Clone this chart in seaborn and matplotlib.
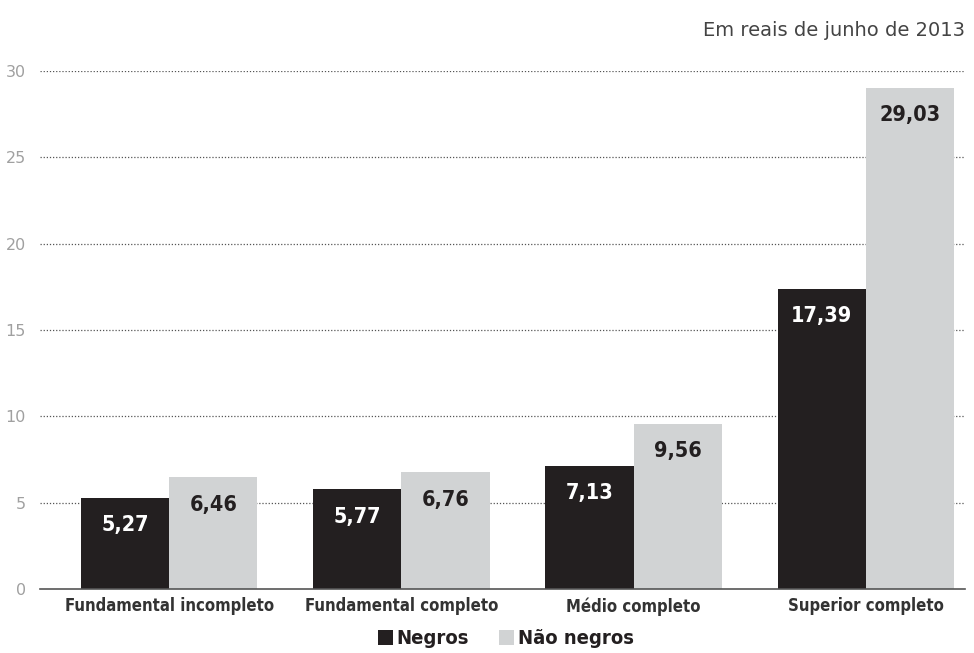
import matplotlib
matplotlib.use("Agg")
import matplotlib.pyplot as plt
import seaborn as sns
import pandas as pd
from matplotlib.patches import Patch
from matplotlib import font_manager
from matplotlib.font_manager import FontProperties

categories = ["Fundamental incompleto", "Fundamental completo", "Médio completo", "Superior completo"]
negros = [5.27, 5.77, 7.13, 17.39]
nao_negros = [6.46, 6.76, 9.56, 29.03]
series_names = ["Negros", "Não negros"]
y_ticks = [0, 5, 10, 15, 20, 25, 30]
subtitle = "Em reais de junho de 2013"

sns.set_style("white")
plt.rcParams['font.family'] = ['DejaVu Sans']

# find a bold condensed font if one is installed
cond_file = None
cands = []
for f in font_manager.fontManager.ttflist:
    nm = (f.name + " " + f.fname).lower()
    is_cond = ("condensed" in nm or "narrow" in nm or f.stretch in ("condensed", "semi-condensed", 600, 700))
    wt = f.weight if isinstance(f.weight, int) else (700 if "bold" in str(f.weight) else 400)
    if is_cond and wt >= 700 and "italic" not in nm and "oblique" not in nm and f.style == "normal":
        cands.append(f)
cands.sort(key=lambda f: (0 if "dejavu" in f.fname.lower() else 1, f.fname))
if cands:
    cond_file = cands[0].fname

def bprop(size):
    if cond_file:
        return FontProperties(fname=cond_file, size=size)
    return FontProperties(family="DejaVu Sans", weight="bold", size=size * 0.85)

df = pd.DataFrame({
    "cat": categories * 2,
    "val": negros + nao_negros,
    "grp": [series_names[0]] * 4 + [series_names[1]] * 4,
})

colors = {"Negros": "#231f20", "Não negros": "#d1d3d4"}

fig = plt.figure(figsize=(9.74, 6.53), dpi=100)
ax = fig.add_axes([40/974, 1-589/653, 925/974, (589-71)/653])
sns.barplot(data=df, x="cat", y="val", hue="grp", palette=colors, width=0.76,
            ax=ax, legend=False, saturation=1, linewidth=0)

ax.set_ylim(0, 30)
ax.set_xlim(-0.556, 3.427)
ax.set_yticks(y_ticks)
ax.set_yticklabels([str(t) for t in y_ticks], fontsize=11.5, color="#a0a0a0", family="DejaVu Sans")
ax.tick_params(axis="y", length=0, pad=10)
ax.tick_params(axis="x", length=0, pad=6)
ax.set_xticks(range(len(categories)))
ax.set_xticklabels(categories, fontproperties=bprop(12), color="#333333")
ax.set_xlabel("")
ax.set_ylabel("")
for s in ["top", "right", "left"]:
    ax.spines[s].set_visible(False)
ax.spines["bottom"].set_color("#555555")
ax.spines["bottom"].set_linewidth(1.2)
ax.set_axisbelow(True)
for t in y_ticks[1:]:
    ax.axhline(t, color="#555555", lw=0.9, ls=(0, (1, 1.5)), zorder=0)

for cont, txtcol in zip(ax.containers, ["white", "#231f20"]):
    for bar in cont:
        h = bar.get_height()
        ax.annotate(f"{h:.2f}".replace(".", ","),
                    (bar.get_x() + bar.get_width() / 2, h),
                    xytext=(0, -12.5), textcoords="offset points",
                    ha="center", va="top", fontproperties=bprop(15.5), color=txtcol)

fig.text(965/974, 1-30/653, subtitle, ha="right", va="center", fontsize=14,
         color="#444444", family="DejaVu Sans")

handles = [Patch(facecolor=colors[n], edgecolor="none", label=n) for n in series_names]
leg = fig.legend(handles=handles, loc="center", bbox_to_anchor=(506/974, 1-639/653), ncol=2,
                 frameon=False, handlelength=0.75, handleheight=0.75, handletextpad=0.2,
                 columnspacing=1.5, prop=bprop(14.5))
for t in leg.get_texts():
    t.set_color("#231f20")

fig.savefig("out.png", dpi=100)
